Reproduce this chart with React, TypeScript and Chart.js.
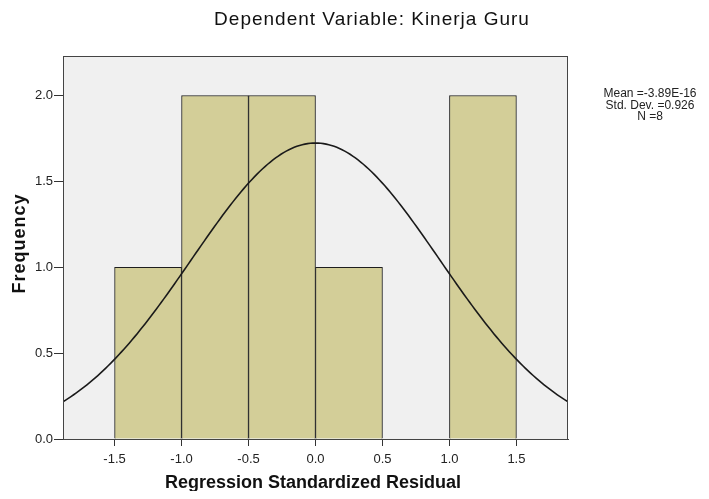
import React, { useEffect, useRef } from "react";
import { Chart, registerables } from "chart.js";

Chart.register(...registerables);

// Histogram bins (centers) and frequencies
const binCenters = [-1.25, -0.75, -0.25, 0.25, 0.75, 1.25];
const frequencies = [1, 2, 2, 1, 0, 2];
const xTickValues = [-1.5, -1.0, -0.5, 0.0, 0.5, 1.0, 1.5];
const yTickValues = [0.0, 0.5, 1.0, 1.5, 2.0];
const statLines = ["Mean =-3.89E-16", "Std. Dev. =0.926", "N =8"];
const meanValue = -3.89e-16;
const stdDev = 0.926;
const nCount = 8;
const binWidth = 0.5;
const xMin = -1.885;
const xMax = 1.885;
const yMax = 2.23;

const FONT = "'Liberation Sans', Arial, sans-serif";

function normalCurve() {
  const pts: { x: number; y: number }[] = [];
  const steps = 190;
  for (let i = 0; i <= steps; i++) {
    const x = xMin + ((xMax - xMin) * i) / steps;
    const z = (x - meanValue) / stdDev;
    const y = (nCount * binWidth * Math.exp(-0.5 * z * z)) / (stdDev * Math.sqrt(2 * Math.PI));
    pts.push({ x, y });
  }
  return pts;
}

const decorPlugin = {
  id: "decor",
  beforeDatasetsDraw(chart: any) {
    const { ctx, chartArea } = chart;
    ctx.save();
    ctx.fillStyle = "#f0f0f0";
    ctx.fillRect(chartArea.left, chartArea.top, chartArea.right - chartArea.left, chartArea.bottom - chartArea.top);
    ctx.restore();
  },
  afterDraw(chart: any) {
    const { ctx, chartArea } = chart;
    ctx.save();
    ctx.strokeStyle = "#444";
    ctx.lineWidth = 1;
    ctx.strokeRect(chartArea.left + 0.5, chartArea.top + 0.5, chartArea.right - chartArea.left - 1, chartArea.bottom - chartArea.top);
    ctx.fillStyle = "#111";
    ctx.textAlign = "center";
    ctx.textBaseline = "middle";
    ctx.font = `19px ${FONT}`;
    (ctx as any).letterSpacing = "1px";
    ctx.fillText("Dependent Variable: Kinerja Guru", 364, 12);
    (ctx as any).letterSpacing = "0px";
    ctx.font = `bold 18px ${FONT}`;
    ctx.fillText("Regression Standardized Residual", 305, 475);
    ctx.save();
    ctx.translate(12, 235.5);
    ctx.rotate(-Math.PI / 2);
    ctx.font = `bold 18px ${FONT}`;
    (ctx as any).letterSpacing = "1px";
    ctx.fillText("Frequency", 0, 0);
    ctx.restore();
    (ctx as any).letterSpacing = "0px";
    ctx.font = `12px ${FONT}`;
    ctx.fillStyle = "#222";
    statLines.forEach((s, i) => ctx.fillText(s, 642, 86 + i * 11.5));
    ctx.restore();
  },
};

export default function App() {
  const ref = useRef<HTMLCanvasElement>(null);
  useEffect(() => {
    if (!ref.current) return;
    const chart = new Chart(ref.current, {
      type: "bar",
      data: {
        datasets: [
          {
            type: "line",
            data: normalCurve(),
            borderColor: "#1a1a1a",
            borderWidth: 1.6,
            pointRadius: 0,
            tension: 0,
            order: 0,
          } as any,
          {
            type: "bar",
            data: binCenters.map((c, i) => ({ x: c, y: frequencies[i] === 0 ? null : frequencies[i] })),
            backgroundColor: "#d3ce98",
            borderColor: "#1e1e1e",
            borderWidth: 1,
            borderSkipped: "bottom",
            barPercentage: 1,
            categoryPercentage: 1,
            grouped: false,
            order: 1,
          } as any,
        ],
      },
      options: {
        animation: false,
        responsive: true,
        maintainAspectRatio: false,
        layout: { padding: { left: 0, top: 48, right: 133, bottom: 0 } },
        plugins: { legend: { display: false }, tooltip: { enabled: false }, title: { display: false } },
        scales: {
          x: {
            type: "linear",
            min: xMin,
            max: xMax,
            offset: false,
            afterBuildTicks: (s: any) => {
              s.ticks = xTickValues.map((v) => ({ value: v }));
            },
            afterFit: (s: any) => {
              s.height = 52;
            },
            ticks: {
              callback: (v: any) => Number(v).toFixed(1),
              color: "#222",
              font: { family: FONT, size: 13 },
              padding: 6,
              maxRotation: 0,
              autoSkip: false,
            },
            grid: { offset: false, drawOnChartArea: false, drawTicks: true, tickLength: 7, color: "#333" },
            border: { display: true, color: "#444" },
          },
          y: {
            type: "linear",
            min: 0,
            max: yMax,
            afterBuildTicks: (s: any) => {
              s.ticks = yTickValues.map((v) => ({ value: v }));
            },
            afterFit: (s: any) => {
              s.width = 55;
            },
            ticks: {
              callback: (v: any) => Number(v).toFixed(1),
              color: "#222",
              font: { family: FONT, size: 13 },
              padding: 1,
              autoSkip: false,
            },
            grid: { drawOnChartArea: false, drawTicks: true, tickLength: 9, color: "#333" },
            border: { display: true, color: "#444" },
          },
        },
      },
      plugins: [decorPlugin],
    });
    return () => chart.destroy();
  }, []);
  return (
    <div style={{ width: 693, height: 483, position: "relative" }}>
      <canvas ref={ref} />
    </div>
  );
}
